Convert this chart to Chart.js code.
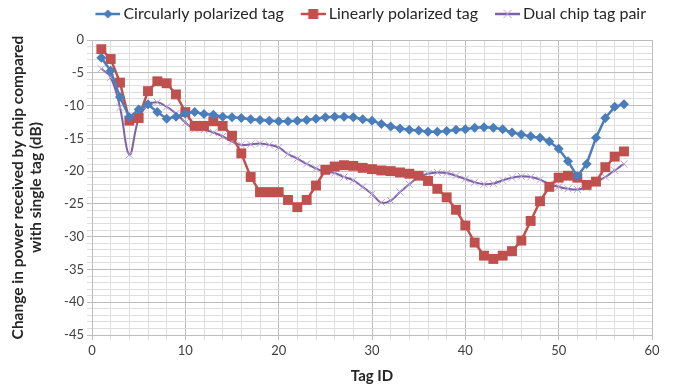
<!DOCTYPE html>
<html>
<head>
<meta charset="utf-8">
<script src="https://cdn.jsdelivr.net/npm/chart.js@4.4.1/dist/chart.umd.min.js"></script>
<style>
  html, body { margin: 0; padding: 0; background: #fff; }
  #wrap { width: 673px; height: 387px; }
</style>
</head>
<body>
<div id="wrap"><canvas id="chart" width="673" height="387"></canvas></div>
<script>
// Tag IDs 1..57
const tagIds = [1, 2, 3, 4, 5, 6, 7, 8, 9, 10, 11, 12, 13, 14, 15, 16, 17, 18, 19, 20,
  21, 22, 23, 24, 25, 26, 27, 28, 29, 30, 31, 32, 33, 34, 35, 36, 37, 38, 39, 40,
  41, 42, 43, 44, 45, 46, 47, 48, 49, 50, 51, 52, 53, 54, 55, 56, 57];

const circular = [-2.7, -4.7, -8.7, -11.8, -10.6, -9.8, -11.0, -12.0, -11.7, -11.2,
  -11.0, -11.3, -11.4, -11.7, -11.8, -11.9, -12.1, -12.2, -12.3, -12.4,
  -12.4, -12.3, -12.2, -12.0, -11.8, -11.7, -11.7, -11.8, -12.1, -12.3,
  -12.8, -13.2, -13.5, -13.7, -13.8, -14.0, -14.0, -13.9, -13.7, -13.6,
  -13.4, -13.3, -13.4, -13.6, -14.1, -14.4, -14.7, -14.9, -15.5, -16.6,
  -18.5, -20.8, -18.9, -14.9, -11.9, -10.2, -9.8];

const linear = [-1.4, -2.9, -6.5, -12.3, -11.9, -7.8, -6.3, -6.6, -8.3, -11.0,
  -13.1, -13.1, -12.4, -13.1, -14.6, -17.3, -20.9, -23.2, -23.2, -23.2,
  -24.4, -25.5, -24.4, -22.2, -19.8, -19.3, -19.1, -19.2, -19.5, -19.7,
  -19.9, -20.0, -20.2, -20.4, -20.7, -21.5, -22.7, -24.0, -25.9, -28.3,
  -30.9, -32.9, -33.4, -32.9, -32.2, -30.6, -27.6, -24.6, -22.4, -21.0,
  -20.7, -21.0, -22.1, -21.6, -19.4, -17.8, -17.0];

const dualChip = [-4.4, -5.7, -10.3, -17.5, -12.0, -9.9, -9.5, -10.2, -11.2, -12.6,
  -13.6, -13.7, -14.1, -14.7, -15.5, -16.0, -15.9, -15.8, -16.0, -16.4,
  -17.4, -18.1, -18.9, -19.6, -20.1, -20.3, -20.9, -21.4, -22.4, -23.5,
  -24.8, -24.5, -23.2, -22.0, -20.9, -20.4, -20.2, -20.3, -20.7, -21.2,
  -21.7, -22.0, -21.9, -21.4, -21.0, -20.8, -20.9, -21.3, -22.0, -22.4,
  -22.7, -22.8, -22.5, -21.7, -20.9, -19.9, -18.9];

const seriesNames = ['Circularly polarized tag', 'Linearly polarized tag', 'Dual chip tag pair'];
const xTickLabels = [0, 10, 20, 30, 40, 50, 60];
const yTickLabels = [0, -5, -10, -15, -20, -25, -30, -35, -40, -45];

const BLUE = '#4a7ebb';
const RED = '#c0504d';
const PURPLE = '#7d60a8';
const PURPLE_LIGHT = '#b7a5d3';
const FONT = 'Lato';

function pts(values) {
  return values.map((v, i) => ({ x: tagIds[i], y: v }));
}

// legend swatch: line with the marker on it, drawn in the right part of the image
// (the image is centred on the legend box, the empty left part makes the gap)
const SW_BOX = 31;
function swatch(kind) {
  const c = document.createElement('canvas');
  c.width = SW_BOX + 10; c.height = 14;
  const g = c.getContext('2d');
  const x0 = 16, x1 = c.width, mid = (x0 + x1) / 2;
  const col = kind === 'circ' ? BLUE : kind === 'lin' ? RED : PURPLE;
  g.strokeStyle = col;
  g.lineWidth = 2.5;
  g.beginPath(); g.moveTo(x0, 7); g.lineTo(x1, 7); g.stroke();
  if (kind === 'circ') {
    g.fillStyle = BLUE;
    g.beginPath(); g.moveTo(mid, 2.5); g.lineTo(mid + 4.5, 7); g.lineTo(mid, 11.5); g.lineTo(mid - 4.5, 7); g.closePath(); g.fill();
  } else if (kind === 'lin') {
    g.fillStyle = RED;
    g.fillRect(mid - 5, 2, 10, 10);
  } else {
    g.strokeStyle = PURPLE_LIGHT;
    g.lineWidth = 1;
    g.beginPath(); g.moveTo(mid - 4, 3); g.lineTo(mid + 4, 11); g.moveTo(mid + 4, 3); g.lineTo(mid - 4, 11); g.stroke();
  }
  return c;
}
const swatches = [swatch('circ'), swatch('lin'), swatch('dual')];

// extra space under the legend
const legendGap = {
  id: 'legendGap',
  beforeLayout(chart) {
    const lg = chart.legend;
    if (!lg || lg._gapPatched) return;
    const fit = lg.fit;
    lg.fit = function () { fit.call(this); this.height += 8; };
    lg._gapPatched = true;
  }
};

new Chart(document.getElementById('chart'), {
  type: 'line',
  data: {
    datasets: [
      {
        label: seriesNames[0],
        data: pts(circular),
        borderColor: BLUE,
        backgroundColor: BLUE,
        borderWidth: 2.5,
        pointStyle: 'rectRot',
        pointRadius: 5,
        pointBorderWidth: 0,
        tension: 0
      },
      {
        label: seriesNames[1],
        data: pts(linear),
        borderColor: RED,
        backgroundColor: RED,
        borderWidth: 2.5,
        pointStyle: 'rect',
        pointRadius: 7,
        pointBorderWidth: 0,
        tension: 0
      },
      {
        label: seriesNames[2],
        data: pts(dualChip),
        borderColor: PURPLE,
        backgroundColor: PURPLE_LIGHT,
        pointBorderColor: PURPLE_LIGHT,
        borderWidth: 2,
        pointStyle: 'crossRot',
        pointRadius: 5,
        pointBorderWidth: 1,
        tension: 0.4
      }
    ]
  },
  plugins: [legendGap],
  options: {
    responsive: false,
    animation: false,
    layout: { padding: { left: 0, right: 21, top: 0, bottom: 2 } },
    plugins: {
      tooltip: { enabled: false },
      legend: {
        position: 'top',
        align: 'end',
        labels: {
          usePointStyle: true,
          pointStyleWidth: SW_BOX,
          padding: 6,
          color: '#262626',
          font: { family: FONT, size: 16 },
          generateLabels: (chart) => chart.data.datasets.map((ds, i) => ({
            text: ds.label,
            pointStyle: swatches[i],
            datasetIndex: i,
            fontColor: '#262626',
            lineWidth: 0,
            strokeStyle: 'transparent',
            fillStyle: 'transparent'
          }))
        }
      }
    },
    scales: {
      x: {
        type: 'linear',
        min: 0,
        max: 60,
        afterFit: (s) => { s.height = 50; },
        ticks: {
          stepSize: 2,
          autoSkip: false,
          maxRotation: 0,
          color: '#404040',
          font: { family: FONT, size: 13 },
          callback: (v) => xTickLabels.includes(v) ? String(v) : ''
        },
        grid: {
          color: (ctx) => (ctx.tick && ctx.tick.value % 10 === 0) ? '#bdbdbd' : '#dedede',
          tickLength: 5,
          lineWidth: 1
        },
        border: { color: '#bdbdbd' },
        title: {
          display: true,
          text: 'Tag ID',
          color: '#262626',
          font: { family: FONT, size: 15, weight: 'bold' },
          padding: { top: 2, bottom: 0 }
        }
      },
      y: {
        min: -45,
        max: 0,
        afterFit: (s) => { s.width = 92; },
        ticks: {
          stepSize: 1,
          autoSkip: false,
          color: '#404040',
          font: { family: FONT, size: 13 },
          callback: (v) => yTickLabels.includes(v) ? String(v) : ''
        },
        grid: {
          color: (ctx) => (ctx.tick && ctx.tick.value % 5 === 0) ? '#bdbdbd' : '#dedede',
          tickLength: 5,
          lineWidth: 1
        },
        border: { color: '#bdbdbd' },
        title: {
          display: true,
          text: ['Change in power received by chip compared', 'with single tag (dB)'],
          color: '#262626',
          font: { family: FONT, size: 15.5, weight: 'bold', lineHeight: 1.15 },
          padding: { top: 9, bottom: 4 }
        }
      }
    }
  }
});
</script>
</body>
</html>
